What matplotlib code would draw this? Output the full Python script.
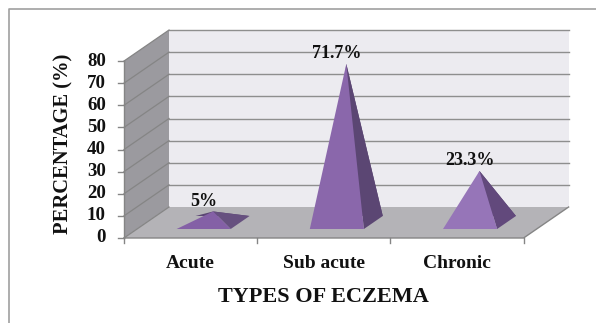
import matplotlib
matplotlib.use("Agg")
import matplotlib.pyplot as plt
from matplotlib.patches import Polygon

categories = ["Acute", "Sub acute", "Chronic"]
values = [5, 71.7, 23.3]
value_labels = ["5%", "71.7%", "23.3%"]
y_ticks = [0, 10, 20, 30, 40, 50, 60, 70, 80]

# 3D box in image pixels
X0, Y0 = 124, 238
CAT_W = 133.2
PX_PER_UNIT = 2.212
DX, DY = 45, -31
BAR_HALF = 0.203
D_FRONT, D_BACK = 0.29, 0.71


def project(x, v, d):
    # x in category units, v in percent, d is depth 0..1
    return X0 + x * CAT_W + d * DX, Y0 - v * PX_PER_UNIT + d * DY


def poly(ax, pts, color, edge="none", lw=0.0, z=1):
    ax.add_patch(Polygon(pts, closed=True, facecolor=color, edgecolor=edge, linewidth=lw, zorder=z))


fig = plt.figure(figsize=(5.96, 3.23), dpi=100)
ax = fig.add_axes([0, 0, 1, 1])
ax.set_xlim(0, 596)
ax.set_ylim(323, 0)
ax.axis("off")

plt.rcParams["font.family"] = ["Liberation Serif", "DejaVu Serif"]

# chart border
ax.plot([8.5, 8.5, 596], [323, 8.5, 8.5], color="#a0a0a0", lw=1.2, zorder=0)

top = y_ticks[-1]
n = len(categories)
poly(ax, [project(0, 0, 1), project(n, 0, 1), project(n, top, 1), project(0, top, 1)], "#ecebf0")
poly(ax, [project(0, 0, 0), project(0, 0, 1), project(0, top, 1), project(0, top, 0)], "#9b9a9f")
poly(ax, [project(0, 0, 0), project(n, 0, 0), project(n, 0, 1), project(0, 0, 1)], "#b4b3b7")

# gridlines on walls, ticks and tick labels
for t in y_ticks:
    if t > 0:
        xs, ys = zip(project(0, t, 1), project(n, t, 1))
        ax.plot(xs, ys, color="#8e8e8e", lw=1.0, zorder=2)
    xs, ys = zip(project(0, t, 0), project(0, t, 1))
    ax.plot(xs, ys, color="#858585", lw=0.9, zorder=2)
    x, y = project(0, t, 0)
    ax.plot([x - 6, x], [y, y], color="#858585", lw=1.0, zorder=2)
    ax.text(106, y, str(t), ha="right", va="center", fontsize=13.6, fontweight="bold", color="#111111")

xs, ys = zip(project(0, 0, 0), project(0, top, 0))
ax.plot(xs, ys, color="#858585", lw=1.0, zorder=2)
xs, ys = zip(project(0, 0, 0), project(n, 0, 0), project(n, 0, 1))
ax.plot(xs, ys, color="#858585", lw=1.0, zorder=2)
for i in range(n + 1):
    x, y = project(i, 0, 0)
    ax.plot([x, x], [y, y + 5], color="#858585", lw=1.0, zorder=2)

front_colors = ["#8460a6", "#8a67ab", "#9675b8"]
side_colors = ["#66507f", "#5b4673", "#62497c"]

for i, (cat, val, lab) in enumerate(zip(categories, values, value_labels)):
    c = i + 0.5
    fl = project(c - BAR_HALF, 0, D_FRONT)
    fr = project(c + BAR_HALF, 0, D_FRONT)
    br = project(c + BAR_HALF, 0, D_BACK)
    bl = project(c - BAR_HALF, 0, D_BACK)
    apex = project(c, val, 0.5)
    poly(ax, [bl, br, apex], "#5b4673", z=3)
    poly(ax, [fr, br, apex], side_colors[i], z=4)
    poly(ax, [fl, fr, apex], front_colors[i], z=5)

    lx, _ = project(c, 0, D_FRONT)
    ax.text(lx, apex[1] - 10, lab, ha="center", va="center", fontsize=13,
            fontweight="bold", color="#111111", zorder=6)
    x, _ = project(c, 0, 0)
    ax.text(x, 264, cat, ha="center", va="center", fontsize=14, fontweight="bold", color="#111111")

ax.text(323, 297, "TYPES OF ECZEMA", ha="center", va="center", fontsize=16,
        fontweight="bold", color="#111111")
ax.text(63, 144, "PERCENTAGE (%)", ha="center", va="center", rotation=90, fontsize=14.8,
        fontweight="bold", color="#111111")

fig.savefig("out.png", dpi=100)
plt.close(fig)
